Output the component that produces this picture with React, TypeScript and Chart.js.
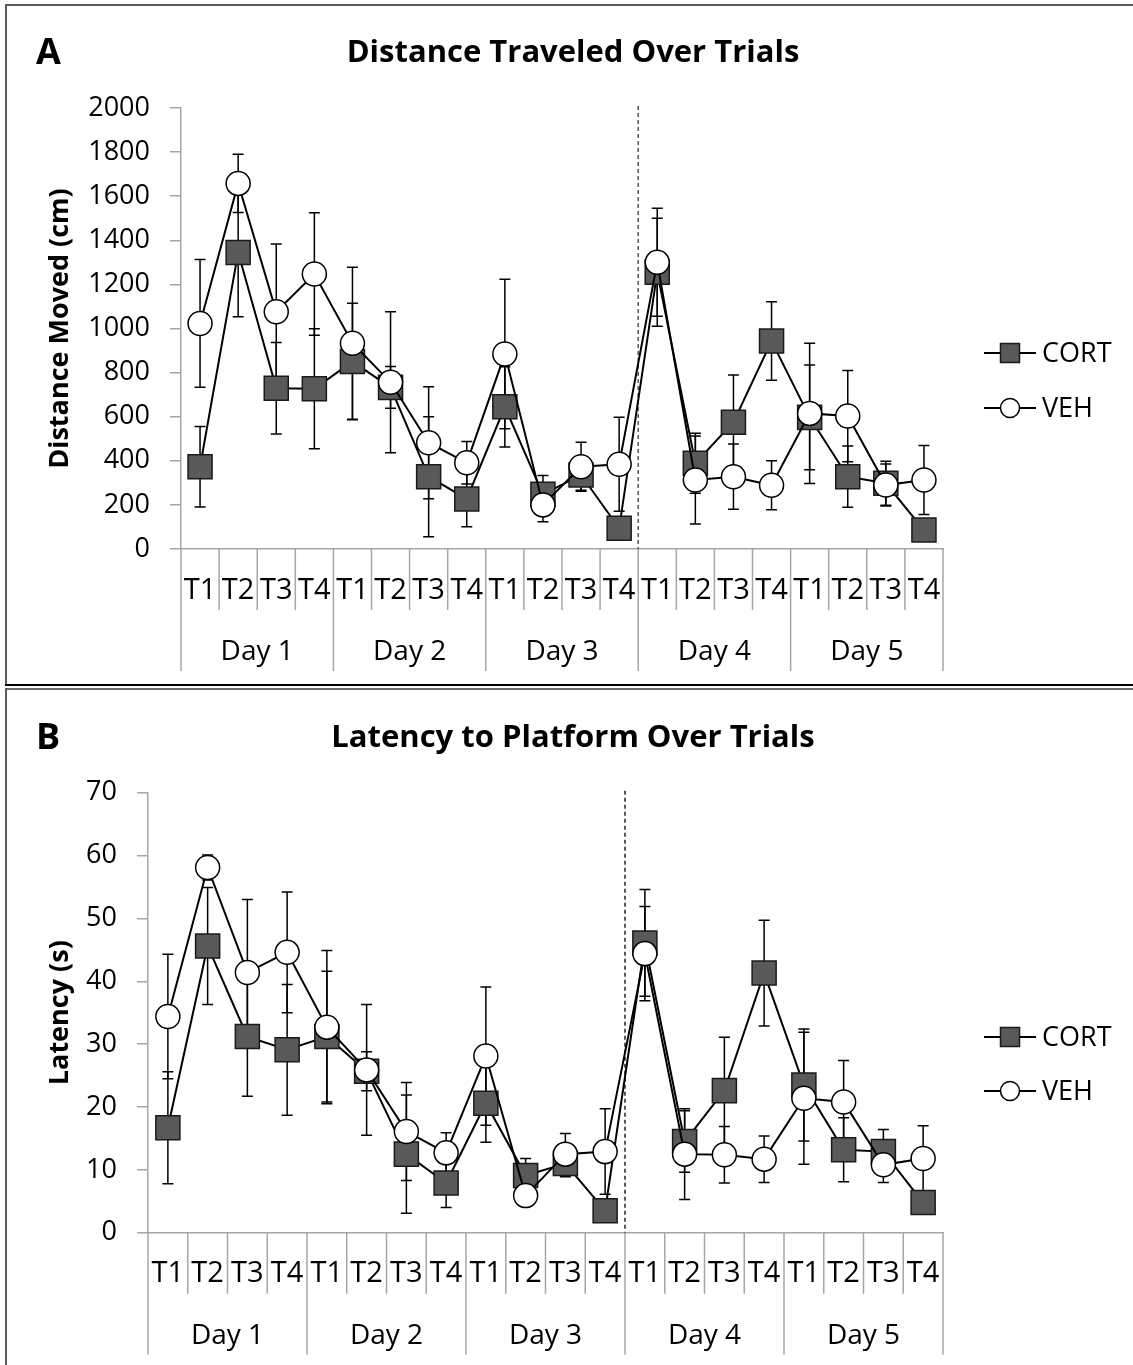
import React, { useEffect, useRef } from 'react';
import { Chart, registerables } from 'chart.js';

Chart.register(...registerables);

// ---------- data ----------
const days = ['Day 1', 'Day 2', 'Day 3', 'Day 4', 'Day 5'];
const trials = ['T1', 'T2', 'T3', 'T4'];
const seriesNames = ['CORT', 'VEH'];

const distanceCort = [373, 1345, 729, 727, 850, 733, 328, 227, 645, 248, 336, 94, 1255, 389, 575, 943, 597, 328, 298, 86];
const distanceCortErr = [183, 292, 207, 272, 264, 95, 272, 126, 182, 85, 70, 45, 245, 136, 214, 178, 238, 139, 100, 45];
const distanceVeh = [1023, 1658, 1076, 1247, 933, 756, 482, 391, 884, 200, 373, 384, 1300, 313, 328, 289, 615, 603, 290, 313];
const distanceVehErr = [290, 132, 307, 278, 345, 320, 254, 96, 339, 76, 111, 213, 245, 200, 148, 111, 318, 207, 95, 156];

const latencyCort = [16.7, 45.6, 31.2, 29.1, 31.2, 25.7, 12.5, 7.9, 20.6, 9.1, 11.0, 3.5, 46.1, 14.5, 22.6, 41.3, 23.5, 13.2, 12.9, 4.8];
const latencyCortErr = [8.9, 9.3, 9.5, 10.4, 10.4, 3.1, 9.4, 3.9, 6.2, 2.7, 2.1, 1.5, 8.5, 4.9, 8.5, 8.4, 8.9, 5.1, 3.5, 1.5];
const latencyVeh = [34.4, 58.1, 41.4, 44.6, 32.7, 25.9, 16.1, 12.7, 28.1, 5.9, 12.5, 12.9, 44.4, 12.5, 12.4, 11.7, 21.4, 20.8, 10.8, 11.8];
const latencyVehErr = [9.9, 2.0, 11.6, 9.6, 12.2, 10.4, 7.8, 3.2, 11.0, 1.5, 3.3, 6.8, 7.5, 7.2, 4.5, 3.7, 10.5, 6.6, 2.8, 5.2];

const distanceAxis = { min: 0, max: 2000, step: 200 };
const latencyAxis = { min: 0, max: 70, step: 10 };

const dividerIndex = 12; // dashed line before Day 4

// ---------- style ----------
const FONT = "'Open Sans', 'DejaVu Sans', sans-serif";
const AXIS_GRAY = '#a6a6a6';
const CORT_FILL = '#595959';
const TICK_SIZE = 27;
const CAT_SIZE = 29;

type PanelProps = {
  letter: string;
  title: string;
  yTitle: string;
  cort: number[];
  cortErr: number[];
  veh: number[];
  vehErr: number[];
  axis: { min: number; max: number; step: number };
  canvasHeight: number;
  padTop: number;
  yAxisWidth: number;
  padBottom: number;
  legendY: [number, number];
  dashColor: string;
};

function drawSquare(ctx: CanvasRenderingContext2D, x: number, y: number, s: number) {
  ctx.fillStyle = CORT_FILL;
  ctx.strokeStyle = '#1a1a1a';
  ctx.lineWidth = 1.5;
  ctx.fillRect(x - s / 2, y - s / 2, s, s);
  ctx.strokeRect(x - s / 2, y - s / 2, s, s);
}
function drawCircle(ctx: CanvasRenderingContext2D, x: number, y: number, r: number) {
  ctx.beginPath();
  ctx.arc(x, y, r, 0, Math.PI * 2);
  ctx.fillStyle = '#fff';
  ctx.fill();
  ctx.strokeStyle = '#000';
  ctx.lineWidth = 1.5;
  ctx.stroke();
}

function Panel(p: PanelProps) {
  const ref = useRef<HTMLCanvasElement | null>(null);
  useEffect(() => {
    if (!ref.current) return;
    const labels = days.flatMap(() => trials.map((t) => t));

    const plugin = {
      id: 'panelExtras',
      beforeDatasetsDraw(chart: any) {
        const ctx: CanvasRenderingContext2D = chart.ctx;
        const xs = chart.scales.x;
        const ys = chart.scales.y;
        const area = chart.chartArea;
        // dashed divider
        const xd = (xs.getPixelForValue(dividerIndex - 1) + xs.getPixelForValue(dividerIndex)) / 2;
        ctx.save();
        ctx.strokeStyle = p.dashColor;
        ctx.lineWidth = 1.5;
        ctx.setLineDash([4, 3]);
        ctx.beginPath();
        ctx.moveTo(xd, area.top - 2);
        ctx.lineTo(xd, area.bottom);
        ctx.stroke();
        ctx.restore();
        // error bars
        ctx.save();
        ctx.strokeStyle = '#000';
        ctx.lineWidth = 1.5;
        chart.data.datasets.forEach((ds: any) => {
          ds.data.forEach((v: number, i: number) => {
            const e = ds.errorBars[i];
            const x = xs.getPixelForValue(i);
            const yt = ys.getPixelForValue(v + e);
            const yb = ys.getPixelForValue(Math.max(v - e, 0));
            ctx.beginPath();
            ctx.moveTo(x, yt);
            ctx.lineTo(x, yb);
            ctx.moveTo(x - 5.5, yt);
            ctx.lineTo(x + 5.5, yt);
            ctx.moveTo(x - 5.5, yb);
            ctx.lineTo(x + 5.5, yb);
            ctx.stroke();
          });
        });
        ctx.restore();
      },
      afterDraw(chart: any) {
        const ctx: CanvasRenderingContext2D = chart.ctx;
        const xs = chart.scales.x;
        const area = chart.chartArea;
        const n = labels.length;
        const step = xs.getPixelForValue(1) - xs.getPixelForValue(0);
        ctx.save();
        // category table lines
        ctx.strokeStyle = AXIS_GRAY;
        ctx.lineWidth = 1.5;
        for (let i = 0; i <= n; i++) {
          const x = xs.getPixelForValue(0) - step / 2 + i * step;
          const len = i % trials.length === 0 ? 122 : 61;
          ctx.beginPath();
          ctx.moveTo(x, area.bottom);
          ctx.lineTo(x, area.bottom + len);
          ctx.stroke();
        }
        // day labels
        ctx.fillStyle = '#000';
        ctx.font = `${CAT_SIZE - 1}px ${FONT}`;
        ctx.textAlign = 'center';
        ctx.textBaseline = 'middle';
        days.forEach((d, di) => {
          const x0 = xs.getPixelForValue(di * trials.length);
          const x1 = xs.getPixelForValue(di * trials.length + trials.length - 1);
          ctx.fillText(d, (x0 + x1) / 2, area.bottom + 103);
        });
        // title + letter
        ctx.font = `bold 31px ${FONT}`;
        ctx.textBaseline = 'alphabetic';
        ctx.fillText(p.title, 573, p.padTop - 46);
        ctx.font = `bold 36px ${FONT}`;
        ctx.textAlign = 'left';
        ctx.fillText(p.letter, 36, p.padTop - 44);
        // y title
        ctx.save();
        ctx.translate(60, (area.top + area.bottom) / 2);
        ctx.rotate(-Math.PI / 2);
        ctx.textAlign = 'center';
        ctx.textBaseline = 'middle';
        ctx.font = `bold 27px ${FONT}`;
        ctx.fillText(p.yTitle, 0, 0);
        ctx.restore();
        // legend
        seriesNames.forEach((name, k) => {
          const y = p.legendY[k];
          ctx.strokeStyle = '#000';
          ctx.lineWidth = 2;
          ctx.beginPath();
          ctx.moveTo(984, y);
          ctx.lineTo(1036, y);
          ctx.stroke();
          if (k === 0) drawSquare(ctx, 1010, y, 19);
          else drawCircle(ctx, 1010, y, 9.5);
          ctx.fillStyle = '#000';
          ctx.font = `27px ${FONT}`;
          ctx.textAlign = 'left';
          ctx.textBaseline = 'middle';
          ctx.fillText(name, 1042, y + 1);
        });
        ctx.restore();
      },
    };

    const chart = new Chart(ref.current, {
      type: 'line',
      data: {
        labels,
        datasets: [
          {
            label: seriesNames[0],
            data: p.cort,
            errorBars: p.cortErr,
            borderColor: '#000',
            borderWidth: 2,
            pointStyle: 'rect',
            pointRadius: 17,
            pointBackgroundColor: CORT_FILL,
            pointBorderColor: '#1a1a1a',
            pointBorderWidth: 1.5,
            tension: 0,
            order: 2,
          } as any,
          {
            label: seriesNames[1],
            data: p.veh,
            errorBars: p.vehErr,
            borderColor: '#000',
            borderWidth: 2,
            pointStyle: 'circle',
            pointRadius: 12,
            pointBackgroundColor: '#fff',
            pointBorderColor: '#000',
            pointBorderWidth: 1.5,
            tension: 0,
            order: 1,
          } as any,
        ],
      },
      options: {
        animation: false,
        responsive: false,
        devicePixelRatio: 1,
        layout: { padding: { top: p.padTop, left: 10, right: 190, bottom: p.padBottom } },
        plugins: { legend: { display: false }, title: { display: false }, tooltip: { enabled: false } },
        scales: {
          x: {
            type: 'category',
            offset: true,
            grid: { display: false, drawTicks: false },
            border: { display: true, color: AXIS_GRAY, width: 1.5 },
            ticks: { font: { family: FONT, size: CAT_SIZE }, color: '#000', padding: 24, maxRotation: 0, autoSkip: false },
            afterFit: (s: any) => {
              s.height = 130;
            },
          },
          y: {
            min: p.axis.min,
            max: p.axis.max,
            ticks: {
              stepSize: p.axis.step,
              font: { family: FONT, size: TICK_SIZE },
              color: '#000',
              padding: 20,
              callback: (v: any) => String(v),
            },
            grid: { drawOnChartArea: false, drawTicks: true, tickLength: 11, color: AXIS_GRAY, lineWidth: 1.5 },
            border: { display: true, color: AXIS_GRAY, width: 1.5 },
            afterFit: (s: any) => {
              s.width = p.yAxisWidth;
            },
          },
        },
      } as any,
      plugins: [plugin],
    });
    return () => chart.destroy();
  }, []);
  return <canvas ref={ref} width={1133} height={p.canvasHeight} style={{ display: 'block', width: 1133, height: p.canvasHeight }} />;
}

export default function App() {
  const line = (s: React.CSSProperties) => <div style={{ position: 'absolute', ...s }} />;
  return (
    <div style={{ position: 'absolute', left: 0, top: 0, width: 1133, height: 1365, background: '#fff', overflow: 'hidden' }}>
      <div style={{ position: 'absolute', left: 0, top: 0 }}>
        <Panel
          letter="A"
          title="Distance Traveled Over Trials"
          yTitle="Distance Moved (cm)"
          cort={distanceCort}
          cortErr={distanceCortErr}
          veh={distanceVeh}
          vehErr={distanceVehErr}
          axis={distanceAxis}
          canvasHeight={685}
          padTop={108}
          yAxisWidth={171}
          padBottom={6}
          legendY={[353, 408]}
          dashColor="#555"
        />
      </div>
      <div style={{ position: 'absolute', left: 0, top: 686 }}>
        <Panel
          letter="B"
          title="Latency to Platform Over Trials"
          yTitle="Latency (s)"
          cort={latencyCort}
          cortErr={latencyCortErr}
          veh={latencyVeh}
          vehErr={latencyVehErr}
          axis={latencyAxis}
          canvasHeight={679}
          padTop={106.7}
          yAxisWidth={138}
          padBottom={2.3}
          legendY={[351, 405]}
          dashColor="#222"
        />
      </div>
      {line({ left: 5, top: 4, width: 1140, height: 2, background: '#595959' })}
      {line({ left: 5, top: 4, width: 2, height: 680, background: '#595959' })}
      {line({ left: 5, top: 684, width: 1140, height: 2, background: '#000' })}
      {line({ left: 5, top: 688, width: 1140, height: 2, background: '#6a6a6a' })}
      {line({ left: 5, top: 688, width: 2, height: 700, background: '#595959' })}
    </div>
  );
}
